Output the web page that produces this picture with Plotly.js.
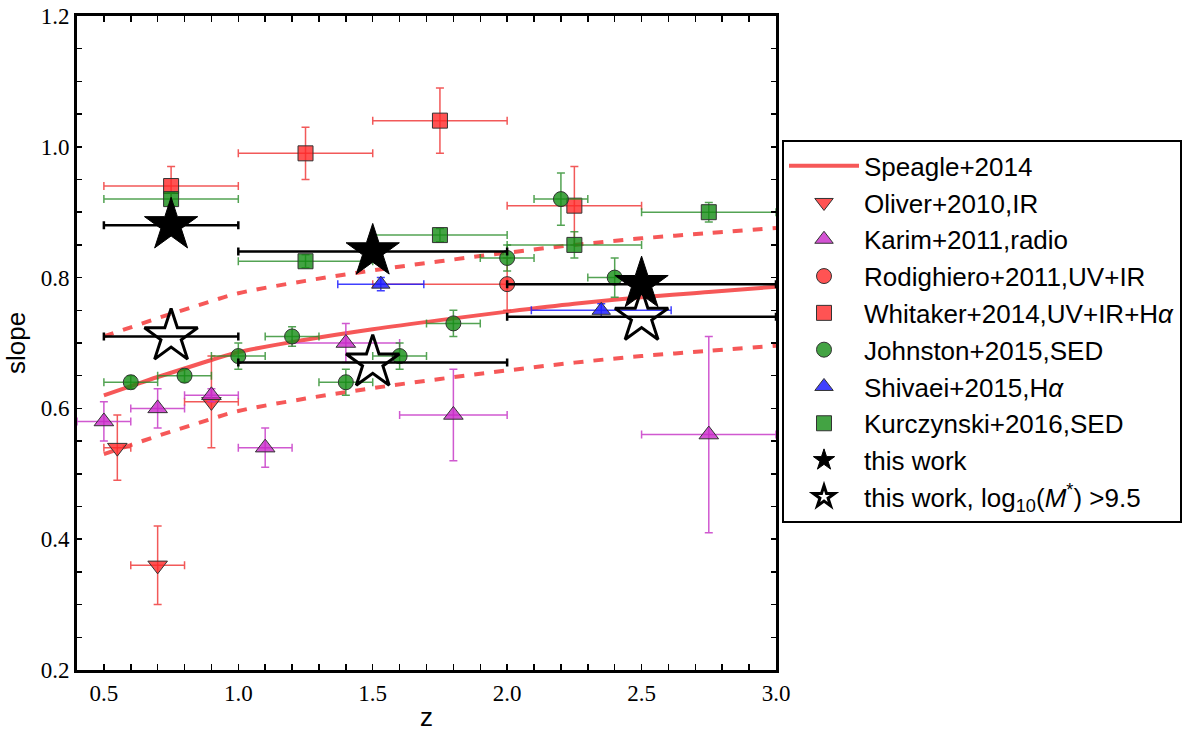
<!DOCTYPE html>
<html>
<head>
<meta charset="utf-8">
<script src="https://cdn.plot.ly/plotly-3.0.1.min.js"></script>
<style>
  body { margin: 0; background: #fff; }
  #chart { width: 1200px; height: 732px; }
</style>
</head>
<body>
<div id="chart"></div>
<script>
// Speagle+2014 relation and its +/- scatter
var speagleZ = [0.5, 0.6, 0.7, 0.8, 0.9, 1.0, 1.25, 1.5, 1.75, 2.0, 2.25, 2.5, 2.75, 3.0];
var speagleSlope = [0.62, 0.634, 0.648, 0.661, 0.674, 0.686, 0.705, 0.721, 0.735, 0.748, 0.76, 0.77, 0.778, 0.786];
var speagleUpper = [0.71, 0.724, 0.738, 0.751, 0.764, 0.776, 0.795, 0.811, 0.825, 0.838, 0.85, 0.86, 0.868, 0.876];
var speagleLower = [0.53, 0.544, 0.558, 0.571, 0.584, 0.596, 0.615, 0.631, 0.645, 0.658, 0.67, 0.68, 0.688, 0.696];

var oliverZ = [0.55, 0.7, 0.9];
var oliverSlope = [0.54, 0.36, 0.61];
var oliverZerr = [0.05, 0.1, 0.1];
var oliverSerr = [0.05, 0.06, 0.07];

var karimZ = [0.5, 0.7, 0.9, 1.1, 1.4, 1.8, 2.75];
var karimSlope = [0.58, 0.60, 0.62, 0.54, 0.70, 0.59, 0.56];
var karimZerr = [0.1, 0.1, 0.1, 0.1, 0.2, 0.2, 0.25];
var karimSerr = [0.03, 0.03, 0.01, 0.03, 0.03, 0.07, 0.15];

var rodZ = [2.0];
var rodSlope = [0.79];
var rodZerr = [0.5];
var rodSerr = [0.04];

var whitZ = [0.75, 1.25, 1.75, 2.25];
var whitSlope = [0.94, 0.99, 1.04, 0.91];
var whitZerr = [0.25, 0.25, 0.25, 0.25];
var whitSerr = [0.03, 0.04, 0.05, 0.06];

var johnZ = [0.6, 0.8, 1.0, 1.2, 1.4, 1.6, 1.8, 2.0, 2.2, 2.4];
var johnSlope = [0.64, 0.65, 0.68, 0.71, 0.64, 0.68, 0.73, 0.83, 0.92, 0.80];
var johnZerr = [0.1, 0.1, 0.1, 0.1, 0.1, 0.1, 0.1, 0.1, 0.1, 0.1];
var johnSerr = [0.01, 0.01, 0.02, 0.015, 0.02, 0.02, 0.02, 0.02, 0.04, 0.03];

var shivZ = [1.53, 2.35];
var shivSlope = [0.79, 0.75];
var shivZerr = [0.16, 0.26];
var shivSerr = [0.01, 0.01];

var kurcZ = [0.75, 1.25, 1.75, 2.25, 2.75];
var kurcSlope = [0.92, 0.825, 0.865, 0.85, 0.90];
var kurcZerr = [0.25, 0.25, 0.25, 0.25, 0.25];
var kurcSerr = [0.01, 0.01, 0.01, 0.02, 0.015];

var workZ = [0.75, 1.5, 2.5];
var workSlope = [0.88, 0.84, 0.79];
var workZerr = [0.25, 0.5, 0.5];

var massZ = [0.75, 1.5, 2.5];
var massSlope = [0.71, 0.67, 0.74];
var massZerr = [0.25, 0.5, 0.5];

var sansFont = 'Liberation Sans';
var serifFont = 'Liberation Serif';

function errTrace(name, x, y, xe, ye, symbol, fill, barColor, size) {
  return {
    x: x, y: y, name: name, type: 'scatter', mode: 'markers', legendgroup: name,
    marker: {symbol: symbol, size: size, color: fill, line: {color: '#333', width: 1}},
    error_x: {type: 'data', array: xe, visible: true, color: barColor, thickness: 1.5, width: 4},
    error_y: {type: 'data', array: ye, visible: true, color: barColor, thickness: 1.5, width: 4}
  };
}

var red = 'rgba(255,40,40,0.8)';
var redBar = 'rgba(240,60,60,0.85)';
var green = 'rgba(20,140,20,0.8)';
var greenBar = 'rgba(40,140,40,0.8)';
var mag = 'rgba(200,40,200,0.8)';
var magBar = 'rgba(200,60,200,0.85)';
var blue = 'rgba(30,30,255,0.85)';

var data = [
  {x: speagleZ, y: speagleSlope, name: 'Speagle+2014', legendgroup: 'sp', mode: 'lines',
   line: {color: 'rgba(245,70,70,0.9)', width: 4, shape: 'spline'}},
  {x: speagleZ, y: speagleUpper, showlegend: false, mode: 'lines',
   line: {color: 'rgba(245,70,70,0.9)', width: 4, dash: '10px,10px', shape: 'spline'}},
  {x: speagleZ, y: speagleLower, showlegend: false, mode: 'lines',
   line: {color: 'rgba(245,70,70,0.9)', width: 4, dash: '10px,10px', shape: 'spline'}},
  errTrace('Oliver+2010,IR', oliverZ, oliverSlope, oliverZerr, oliverSerr, 'triangle-down', red, redBar, 17),
  errTrace('Karim+2011,radio', karimZ, karimSlope, karimZerr, karimSerr, 'triangle-up', mag, magBar, 17),
  errTrace('Rodighiero+2011,UV+IR', rodZ, rodSlope, rodZerr, rodSerr, 'circle', red, redBar, 15),
  errTrace('Whitaker+2014,UV+IR+H<i>α</i>', whitZ, whitSlope, whitZerr, whitSerr, 'square', red, redBar, 15),
  errTrace('Johnston+2015,SED', johnZ, johnSlope, johnZerr, johnSerr, 'circle', green, greenBar, 15),
  errTrace('Shivaei+2015,H<i>α</i>', shivZ, shivSlope, shivZerr, shivSerr, 'triangle-up', blue, blue, 16),
  errTrace('Kurczynski+2016,SED', kurcZ, kurcSlope, kurcZerr, kurcSerr, 'square', green, greenBar, 15),
  {x: workZ, y: workSlope, name: 'this work', legendgroup: 'tw', mode: 'markers', type: 'scatter',
   marker: {symbol: 'star', size: 40, color: '#000', line: {color: '#000', width: 1}},
   error_x: {type: 'data', array: workZerr, visible: true, color: '#000', thickness: 2.5, width: 4}},
  {x: massZ, y: massSlope, name: 'this work, log<sub>10</sub>(<i>M</i><sup>*</sup>) >9.5', legendgroup: 'tm',
   mode: 'markers', type: 'scatter',
   marker: {symbol: 'star-open', size: 40, color: '#000', line: {color: '#000', width: 3}},
   error_x: {type: 'data', array: massZerr, visible: true, color: '#000', thickness: 2.5, width: 4}}
];

var layout = {
  width: 1200,
  height: 732,
  margin: {l: 77, r: 424, t: 16, b: 62, autoexpand: false},
  paper_bgcolor: '#fff',
  plot_bgcolor: '#fff',
  showlegend: true,
  legend: {
    x: 1.0086, y: 0.81, xanchor: 'left', yanchor: 'top',
    bordercolor: '#000', borderwidth: 2, bgcolor: '#fff',
    font: {family: sansFont, size: 26, color: '#000'},
    tracegroupgap: 0, itemsizing: 'trace', itemwidth: 70
  },
  xaxis: {
    range: [0.4, 3.0], dtick: 0.5, tick0: 0.5, tickformat: '.1f',
    ticks: 'inside', ticklen: 6, tickwidth: 1.5, tickcolor: '#000',
    minor: {dtick: 0.1, ticks: 'inside', ticklen: 6, tickwidth: 1.5, tickcolor: '#000'},
    showline: true, linewidth: 3, linecolor: '#000', mirror: 'allticks',
    showgrid: false, zeroline: false,
    tickfont: {family: serifFont, size: 23, color: '#000'},
    title: {text: 'z', font: {family: sansFont, size: 26, color: '#000'}, standoff: 6}
  },
  yaxis: {
    range: [0.2, 1.2], dtick: 0.2, tick0: 0.2, tickformat: '.1f',
    ticks: 'inside', ticklen: 5, tickwidth: 1.5, tickcolor: '#000',
    minor: {dtick: 0.05, ticks: 'inside', ticklen: 5, tickwidth: 1.5, tickcolor: '#000'},
    showline: true, linewidth: 3, linecolor: '#000', mirror: 'allticks',
    showgrid: false, zeroline: false,
    tickfont: {family: serifFont, size: 23, color: '#000'},
    title: {text: 'slope', font: {family: sansFont, size: 26, color: '#000'}, standoff: 8}
  }
};

Plotly.newPlot('chart', data, layout, {displayModeBar: false, staticPlot: true});
</script>
</body>
</html>
